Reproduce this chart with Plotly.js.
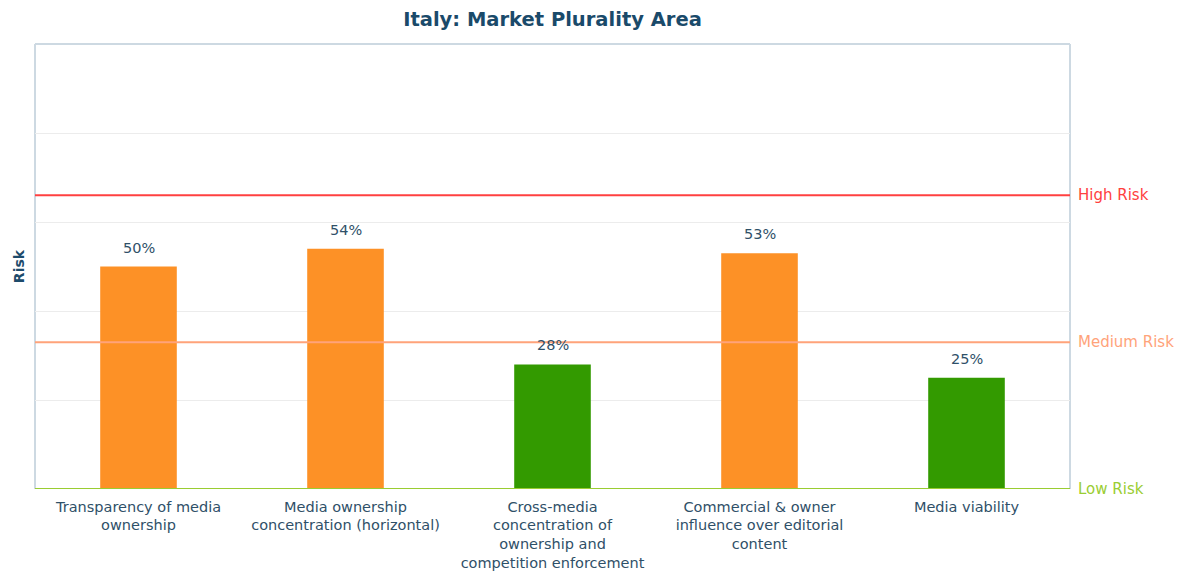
<!DOCTYPE html>
<html>
<head>
<meta charset="utf-8">
<script src="https://cdn.plot.ly/plotly-3.0.1.min.js"></script>
<style>html,body{margin:0;padding:0;background:#fff;}#chart{width:1182px;height:571px;}</style>
</head>
<body>
<div id="chart"></div>
<script>
const categories = [
  "Transparency of media<br>ownership",
  "Media ownership<br>concentration (horizontal)",
  "Cross-media<br>concentration of<br>ownership and<br>competition enforcement",
  "Commercial & owner<br>influence over editorial<br>content",
  "Media viability"
];
const riskValues = [50, 54, 28, 53, 25];
const barColors = ["#fd9126", "#fd9126", "#339a00", "#fd9126", "#339a00"];
const thresholdNames = ["High Risk", "Medium Risk", "Low Risk"];
const thresholdValues = [66, 33, 0];
const thresholdColors = ["#ff4040", "#ffa37a", "#9acd32"];

const textColor = "#2f5068";
const fontFam = "DejaVu Sans, sans-serif";

const trace = {
  type: "bar",
  x: categories,
  y: riskValues,
  marker: {color: barColors},
  width: 0.37,
  hoverinfo: "none"
};

const shapes = thresholdValues.map((v, i) => ({
  type: "line", xref: "paper", yref: "y", x0: 0, x1: 1, y0: v, y1: v,
  line: {color: thresholdColors[i], width: 2}, layer: "above"
}));
shapes.push({type: "line", xref: "paper", yref: "paper", x0: 0, x1: 0, y0: 0, y1: 1, line: {color: "#cdd9e2", width: 2}, layer: "below"});
shapes.push({type: "line", xref: "paper", yref: "paper", x0: 1, x1: 1, y0: 0, y1: 1, line: {color: "#cdd9e2", width: 2}, layer: "below"});
shapes.push({type: "line", xref: "paper", yref: "paper", x0: 0, x1: 1, y0: 1, y1: 1, line: {color: "#cdd9e2", width: 2}, layer: "below"});

const annotations = thresholdValues.map((v, i) => ({
  xref: "paper", yref: "y", x: 1, y: v, xanchor: "left", yanchor: "middle",
  xshift: 6, showarrow: false, text: thresholdNames[i],
  font: {family: fontFam, size: 15, color: thresholdColors[i]}
}));
categories.forEach((c, i) => {
  annotations.push({
    xref: "x", yref: "y", x: c, y: riskValues[i], xanchor: "center", yanchor: "middle",
    yshift: 19, showarrow: false, text: riskValues[i] + "%",
    font: {family: fontFam, size: 14.5, color: textColor}
  });
});

const layout = {
  width: 1182, height: 571,
  margin: {l: 35, r: 112, t: 44, b: 82},
  paper_bgcolor: "#fff", plot_bgcolor: "#fff",
  title: {text: "<b>Italy: Market Plurality Area</b>", x: 0.5, xref: "paper", y: 0.967, yref: "container", yanchor: "middle",
          font: {family: fontFam, size: 19.5, color: "#1a4a6a"}},
  xaxis: {
    tickfont: {family: fontFam, size: 14.5, color: textColor},
    ticklabelstandoff: 7,
    showgrid: false, zeroline: false, showline: false, ticks: "", fixedrange: true
  },
  yaxis: {
    range: [0, 100], dtick: 20, showticklabels: false, showgrid: true,
    gridcolor: "#ececec", gridwidth: 1, zeroline: false, showline: false, ticks: "",
    title: {text: "<b>Risk</b>", standoff: 6, font: {family: fontFam, size: 14, color: "#1d4b6b"}},
    fixedrange: true
  },
  bargap: 0.63,
  showlegend: false,
  shapes: shapes,
  annotations: annotations
};

Plotly.newPlot("chart", [trace], layout, {displayModeBar: false, staticPlot: true});
</script>
</body>
</html>
